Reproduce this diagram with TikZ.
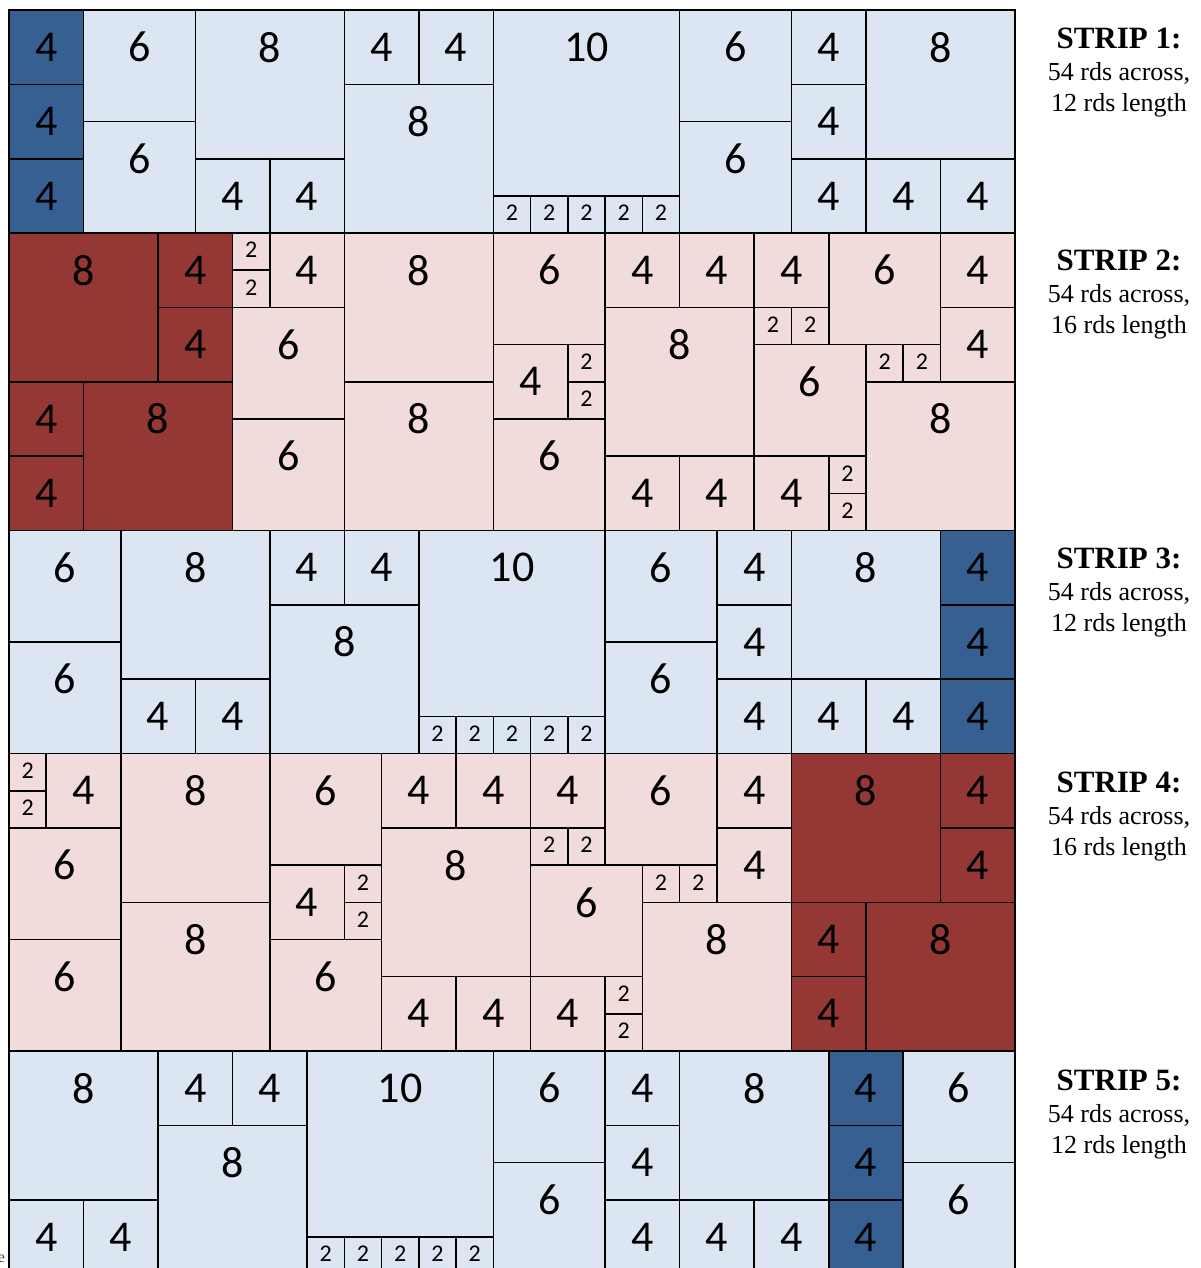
\documentclass[tikz,border=0pt]{standalone}
\usepackage{fontspec}
\setmainfont{Liberation Serif}
\setsansfont{Carlito}
\definecolor{lb}{HTML}{DCE6F2}
\definecolor{db}{HTML}{376092}
\definecolor{lp}{HTML}{F2DCDB}
\definecolor{dr}{HTML}{953735}
\tikzset{
  cell/.style={draw=black,line width=0.8pt},
  LB/.style={cell,fill=lb},
  DB/.style={cell,fill=db},
  LP/.style={cell,fill=lp},
  DR/.style={cell,fill=dr},
  lab/.style={inner sep=0pt,font=\sffamily\fontsize{22}{22}\selectfont},
  labs/.style={inner sep=0pt,font=\sffamily\fontsize{12}{12}\selectfont},
  stt/.style={anchor=base,inner sep=0pt,font=\bfseries\fontsize{15.5}{15.5}\selectfont},
  std/.style={anchor=base,inner sep=0pt,font=\fontsize{13}{13}\selectfont},
}
% style, x, y, side
\newcommand{\sqcell}[4]{%
  \draw[#1] (#2,#3) rectangle ++(#4,#4);
  \node[lab] (c-#2-#3) at ({#2+#4/2},{#3+2}) {#4};
}
% style, x, y  (2x2 cell)
\newcommand{\twcell}[3]{%
  \draw[#1] (#2,#3) rectangle ++(2,2);
  \node[labs] (t-#2-#3) at ({#2+1},{#3+0.92}) {2};
}
\begin{document}
\begin{tikzpicture}[x=0.5pt,y=-0.5pt]
\useasboundingbox (0,0) rectangle (1200,1268);
\clip (0,0) rectangle (1200,1268);
\begin{scope}[shift={(9,10)},x=9.315pt,y=-9.295pt]
% ---------- STRIP 1 ----------
\sqcell{DB}{0}{0}{4}\sqcell{DB}{0}{4}{4}\sqcell{DB}{0}{8}{4}
\sqcell{LB}{4}{0}{6}\sqcell{LB}{4}{6}{6}
\sqcell{LB}{10}{0}{8}\sqcell{LB}{10}{8}{4}\sqcell{LB}{14}{8}{4}
\sqcell{LB}{18}{0}{4}\sqcell{LB}{22}{0}{4}\sqcell{LB}{18}{4}{8}
\sqcell{LB}{26}{0}{10}
\twcell{LB}{26}{10}\twcell{LB}{28}{10}\twcell{LB}{30}{10}\twcell{LB}{32}{10}\twcell{LB}{34}{10}
\sqcell{LB}{36}{0}{6}\sqcell{LB}{36}{6}{6}
\sqcell{LB}{42}{0}{4}\sqcell{LB}{42}{4}{4}\sqcell{LB}{42}{8}{4}
\sqcell{LB}{46}{0}{8}\sqcell{LB}{46}{8}{4}\sqcell{LB}{50}{8}{4}
% ---------- STRIP 2 ----------
\sqcell{DR}{0}{12}{8}\sqcell{DR}{8}{12}{4}\sqcell{DR}{8}{16}{4}
\sqcell{DR}{0}{20}{4}\sqcell{DR}{0}{24}{4}\sqcell{DR}{4}{20}{8}
\twcell{LP}{12}{12}\twcell{LP}{12}{14}
\sqcell{LP}{14}{12}{4}
\sqcell{LP}{12}{16}{6}\sqcell{LP}{12}{22}{6}
\sqcell{LP}{18}{12}{8}\sqcell{LP}{18}{20}{8}
\sqcell{LP}{26}{12}{6}\sqcell{LP}{26}{18}{4}
\twcell{LP}{30}{18}\twcell{LP}{30}{20}
\sqcell{LP}{26}{22}{6}
\sqcell{LP}{32}{12}{4}\sqcell{LP}{36}{12}{4}\sqcell{LP}{40}{12}{4}
\sqcell{LP}{32}{16}{8}
\twcell{LP}{40}{16}\twcell{LP}{42}{16}
\sqcell{LP}{40}{18}{6}
\sqcell{LP}{44}{12}{6}
\sqcell{LP}{50}{12}{4}\sqcell{LP}{50}{16}{4}
\twcell{LP}{46}{18}\twcell{LP}{48}{18}
\sqcell{LP}{46}{20}{8}
\sqcell{LP}{32}{24}{4}\sqcell{LP}{36}{24}{4}\sqcell{LP}{40}{24}{4}
\twcell{LP}{44}{24}\twcell{LP}{44}{26}
% ---------- STRIP 3 ----------
\sqcell{LB}{0}{28}{6}\sqcell{LB}{0}{34}{6}
\sqcell{LB}{6}{28}{8}\sqcell{LB}{6}{36}{4}\sqcell{LB}{10}{36}{4}
\sqcell{LB}{14}{28}{4}\sqcell{LB}{18}{28}{4}\sqcell{LB}{14}{32}{8}
\sqcell{LB}{22}{28}{10}
\twcell{LB}{22}{38}\twcell{LB}{24}{38}\twcell{LB}{26}{38}\twcell{LB}{28}{38}\twcell{LB}{30}{38}
\sqcell{LB}{32}{28}{6}\sqcell{LB}{32}{34}{6}
\sqcell{LB}{38}{28}{4}\sqcell{LB}{38}{32}{4}\sqcell{LB}{38}{36}{4}
\sqcell{LB}{42}{28}{8}\sqcell{LB}{42}{36}{4}\sqcell{LB}{46}{36}{4}
\sqcell{DB}{50}{28}{4}\sqcell{DB}{50}{32}{4}\sqcell{DB}{50}{36}{4}
% ---------- STRIP 4 ----------
\twcell{LP}{0}{40}\twcell{LP}{0}{42}
\sqcell{LP}{2}{40}{4}
\sqcell{LP}{0}{44}{6}\sqcell{LP}{0}{50}{6}
\sqcell{LP}{6}{40}{8}\sqcell{LP}{6}{48}{8}
\sqcell{LP}{14}{40}{6}\sqcell{LP}{14}{46}{4}
\twcell{LP}{18}{46}\twcell{LP}{18}{48}
\sqcell{LP}{14}{50}{6}
\sqcell{LP}{20}{40}{4}\sqcell{LP}{24}{40}{4}\sqcell{LP}{28}{40}{4}
\sqcell{LP}{20}{44}{8}
\twcell{LP}{28}{44}\twcell{LP}{30}{44}
\sqcell{LP}{28}{46}{6}
\sqcell{LP}{32}{40}{6}
\twcell{LP}{34}{46}\twcell{LP}{36}{46}
\sqcell{LP}{38}{40}{4}\sqcell{LP}{38}{44}{4}
\sqcell{LP}{34}{48}{8}
\sqcell{LP}{20}{52}{4}\sqcell{LP}{24}{52}{4}\sqcell{LP}{28}{52}{4}
\twcell{LP}{32}{52}\twcell{LP}{32}{54}
\sqcell{DR}{42}{40}{8}\sqcell{DR}{50}{40}{4}\sqcell{DR}{50}{44}{4}
\sqcell{DR}{42}{48}{4}\sqcell{DR}{42}{52}{4}\sqcell{DR}{46}{48}{8}
% ---------- STRIP 5 ----------
\sqcell{LB}{0}{56}{8}\sqcell{LB}{0}{64}{4}\sqcell{LB}{4}{64}{4}
\sqcell{LB}{8}{56}{4}\sqcell{LB}{12}{56}{4}\sqcell{LB}{8}{60}{8}
\sqcell{LB}{16}{56}{10}
\twcell{LB}{16}{66}\twcell{LB}{18}{66}\twcell{LB}{20}{66}\twcell{LB}{22}{66}\twcell{LB}{24}{66}
\sqcell{LB}{26}{56}{6}\sqcell{LB}{26}{62}{6}
\sqcell{LB}{32}{56}{4}\sqcell{LB}{32}{60}{4}\sqcell{LB}{32}{64}{4}
\sqcell{LB}{36}{56}{8}\sqcell{LB}{36}{64}{4}\sqcell{LB}{40}{64}{4}
\sqcell{DB}{44}{56}{4}\sqcell{DB}{44}{60}{4}\sqcell{DB}{44}{64}{4}
\sqcell{LB}{48}{56}{6}\sqcell{LB}{48}{62}{6}
\end{scope}
% ---------- strip captions ----------
\foreach \n/\b/\len in {1/48.5/12, 2/270.5/16, 3/568.5/12, 4/792.5/16, 5/1090.5/12}{
  \node[stt] (s\n) at (1119,\b) {STRIP \n:};
  \node[std] (a\n) at (1119,\b+32) {54 rds across,};
  \node[std] (l\n) at (1119,\b+63) {\len\ rds length};
}
\node[anchor=base east,inner sep=0pt,text=black!75,font=\fontsize{8}{8}\selectfont] (e) at (5.5,1262) {e};
\end{tikzpicture}
\end{document}
